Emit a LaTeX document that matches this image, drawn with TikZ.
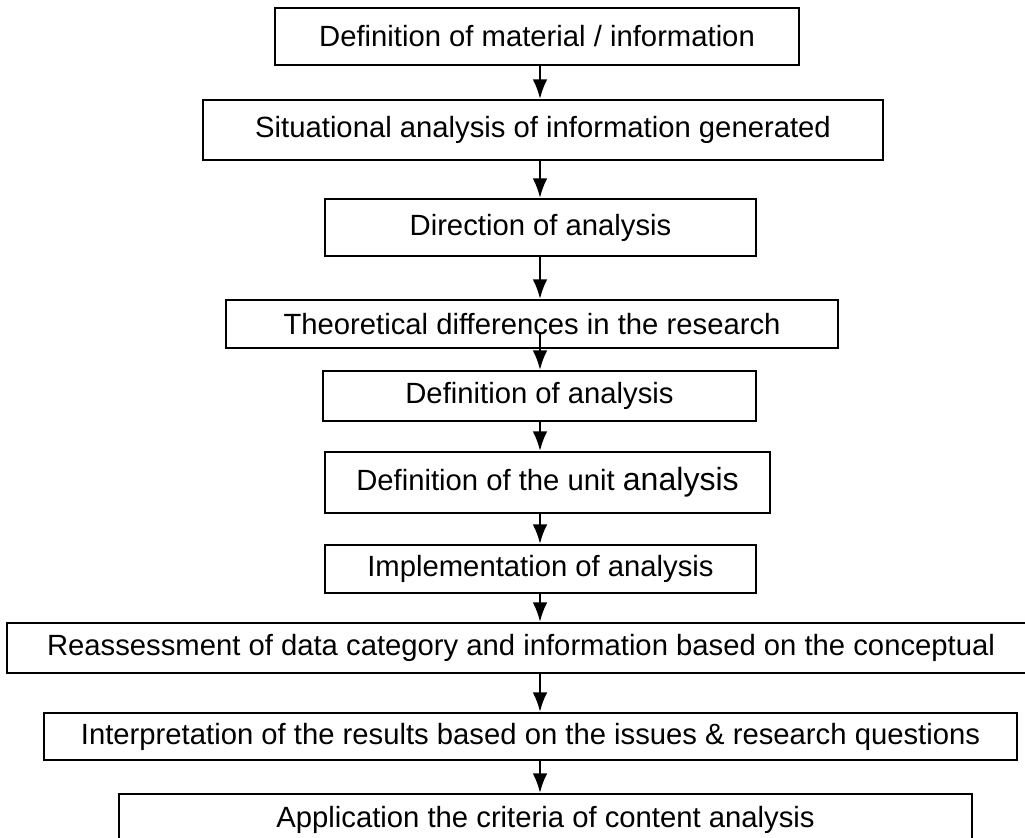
\documentclass[tikz,border=0pt]{standalone}
\usepackage{fontspec}
\setmainfont{Liberation Sans}
\usetikzlibrary{arrows.meta}
\tikzset{font=\fontsize{20.8}{25}\selectfont}

\begin{document}
\begin{tikzpicture}[x=0.025cm,y=-0.025cm,
    stage/.style 2 args={draw,line width=1.5pt,inner sep=0pt,
      minimum width=#1*0.025cm,minimum height=#2*0.025cm},
    flow/.style={line width=1.6pt,-{Latex[length=14pt,width=10.5pt]}}]
  \useasboundingbox (0,0) rectangle (1025,837);
  \clip (0,0) rectangle (1025,837);
  \node[stage={524}{57}] (defmat) at (537,36.5) {Definition of material / information};
  \node[stage={680}{60}] (situ) at (543,130) {Situational analysis of information generated};
  \node[stage={431}{57}] (direct) at (540.5,227.5) {Direction of analysis};
  \node[stage={612}{48}] (theory) at (532,324) {Theoretical differences in the research};
  \node[stage={433}{50}] (defana) at (539.5,396) {Definition of analysis};
  \node[stage={445}{61}] (unit) at (547.5,482.5)
    {Definition of the unit {\fontsize{22.8}{25}\selectfont analysis}};
  \node[stage={431}{48}] (implem) at (540.5,569) {Implementation of analysis};
  \node[stage={1028}{50}] (reass) at (521,648)
    {Reassessment of data category and information based on the conceptual};
  \node[stage={973}{47}] (interp) at (530.5,736.5)
    {Interpretation of the results based on the issues \& research questions};
  \node[stage={853}{51}] (applic) at (545.5,819.5) {Application the criteria of content analysis};

  % arrows all run down one vertical line
  \coordinate (axis) at (540,0);
  \coordinate (thcut) at (540,332);
  \foreach \a/\b in {defmat/situ,situ/direct,direct/theory,defana/unit,
      unit/implem,implem/reass,reass/interp,interp/applic}
    \draw[flow] (\a.south -| axis) -- (\b.north -| axis);
  \draw[flow] (thcut) -- (defana.north -| axis);
\end{tikzpicture}
\end{document}
